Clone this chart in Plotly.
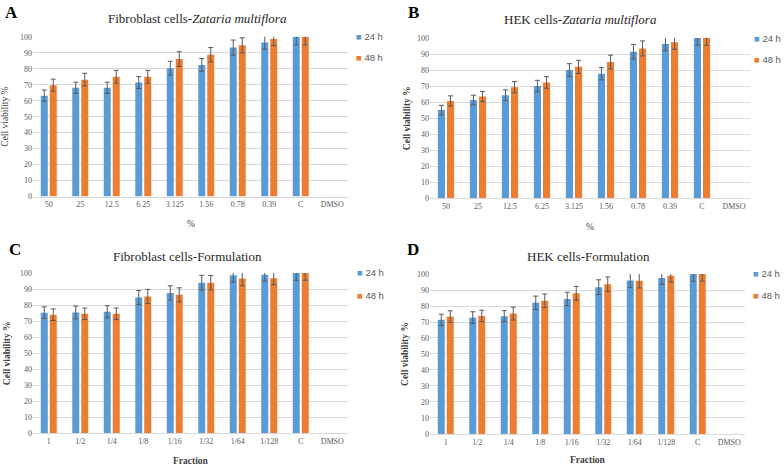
import plotly.graph_objects as go

# ---------------- data ----------------
cats_conc = ["50", "25", "12.5", "6.25", "3.125", "1.56", "0.78", "0.39", "C", "DMSO"]
cats_frac = ["1", "1/2", "1/4", "1/8", "1/16", "1/32", "1/64", "1/128", "C", "DMSO"]

a_24 = [63.2, 68.1, 68.1, 71.4, 80.4, 82.4, 93.3, 96.5, 100, None]
a_48 = [69.7, 73.2, 75.0, 75.0, 86.1, 88.8, 94.7, 98.6, 100, None]
a_24_err = [3.5, 3.5, 3.5, 3.7, 4.3, 4.0, 4.7, 4.2, 5.0, 0]
a_48_err = [3.8, 4.0, 4.0, 4.0, 4.6, 4.5, 4.7, 4.0, 5.0, 0]

b_24 = [55.0, 61.3, 64.3, 70.0, 80.0, 77.7, 91.5, 96.3, 100, None]
b_48 = [60.7, 63.5, 69.3, 72.3, 82.0, 85.0, 93.5, 97.3, 100, None]
b_24_err = [3.0, 3.0, 3.3, 3.6, 4.0, 3.8, 4.5, 4.2, 4.5, 0]
b_48_err = [3.2, 3.2, 3.5, 3.6, 4.1, 4.3, 4.7, 4.3, 4.5, 0]

c_24 = [75.3, 75.4, 75.8, 84.7, 87.6, 94.0, 98.6, 99.0, 100, None]
c_48 = [74.0, 74.6, 74.6, 85.4, 86.4, 94.0, 96.6, 96.8, 100, None]
c_24_err = [3.6, 4.0, 3.8, 4.4, 4.4, 4.6, 4.2, 4.0, 4.5, 0]
c_48_err = [3.6, 3.6, 3.6, 4.4, 4.4, 4.5, 4.5, 4.0, 4.5, 0]

d_24 = [71.4, 72.8, 73.6, 82.0, 84.4, 91.8, 96.0, 97.6, 100, None]
d_48 = [73.4, 73.8, 75.3, 83.3, 88.0, 93.6, 95.8, 99.0, 100, None]
d_24_err = [3.5, 3.6, 3.5, 4.2, 4.2, 4.6, 4.5, 4.0, 4.5, 0]
d_48_err = [3.6, 3.6, 4.0, 4.2, 4.3, 4.6, 4.5, 4.0, 4.5, 0]

series_names = ["24 h", "48 h"]
y_ticks = [0, 10, 20, 30, 40, 50, 60, 70, 80, 90, 100]

panels = [
    dict(letter="A", title="Fibroblast cells-<i>Zataria multiflora</i>", xtitle="%", cats=cats_conc,
         v24=a_24, v48=a_48, e24=a_24_err, e48=a_48_err),
    dict(letter="B", title="HEK cells-<i>Zataria multiflora</i>", xtitle="%", cats=cats_conc,
         v24=b_24, v48=b_48, e24=b_24_err, e48=b_48_err),
    dict(letter="C", title="Fibroblast cells-Formulation", xtitle="<b>Fraction</b>", cats=cats_frac,
         v24=c_24, v48=c_48, e24=c_24_err, e48=c_48_err),
    dict(letter="D", title="HEK cells-Formulation", xtitle="<b>Fraction</b>", cats=cats_frac,
         v24=d_24, v48=d_48, e24=d_24_err, e48=d_48_err),
]

# ---------------- layout geometry (pixels) ----------------
W, H = 784, 471
geo = [
    dict(x0=33, x1=348, ytop=33.5, ybot=196.3, letter_xy=(11, 9), title_xy=(197, 15),
         ytitle_x=5, ytitle_bold=False, xtitle_y=224, leg_x=354, leg_y=(33, 55)),
    dict(x0=430, x1=750, ytop=34.7, ybot=198, letter_xy=(414, 9), title_xy=(580, 16),
         ytitle_x=407, ytitle_bold=True, xtitle_y=227, leg_x=752, leg_y=(35, 57)),
    dict(x0=33, x1=348, ytop=274.3, ybot=437.7, letter_xy=(15, 250), title_xy=(187, 257),
         ytitle_x=7, ytitle_bold=True, xtitle_y=466, leg_x=355, leg_y=(274, 297)),
    dict(x0=430, x1=745, ytop=275.3, ybot=438.3, letter_xy=(413, 250), title_xy=(588, 257),
         ytitle_x=405, ytitle_bold=True, xtitle_y=465, leg_x=751, leg_y=(275, 297)),
]

BLUE = "#5B9BD5"
ORANGE = "#ED7D31"
SERIF = "Liberation Serif"
SANS = "Liberation Sans"

fig = go.Figure()
annotations = []
layout_axes = {}

for i, (p, g) in enumerate(zip(panels, geo)):
    n = "" if i == 0 else str(i + 1)
    xa, ya = "x" + n, "y" + n
    for vals, errs, name, color in [(p["v24"], p["e24"], series_names[0], BLUE),
                                    (p["v48"], p["e48"], series_names[1], ORANGE)]:
        fig.add_trace(go.Bar(
            x=p["cats"], y=vals, name=name, xaxis=xa, yaxis=ya,
            marker=dict(color=color, line=dict(width=0)),
            error_y=dict(type="data", array=errs, visible=True, color="#595959",
                         thickness=1, width=2.5),
            showlegend=False, cliponaxis=True,
        ))
    layout_axes["xaxis" + n] = dict(
        domain=[g["x0"] / W, g["x1"] / W], anchor=ya,
        type="category", categoryorder="array", categoryarray=p["cats"],
        range=[-0.5, len(p["cats"]) - 0.5],
        showline=True, linecolor="#d9d9d9", linewidth=1, ticks="",
        showgrid=False, zeroline=False,
        tickfont=dict(family=SERIF, size=8, color="#595959"),
    )
    layout_axes["yaxis" + n] = dict(
        domain=[1 - g["ybot"] / H, 1 - g["ytop"] / H], anchor=xa,
        range=[0, 100], tickvals=y_ticks, showgrid=True, gridcolor="#d9d9d9", gridwidth=1,
        zeroline=False, showline=False, ticks="",
        tickfont=dict(family=SERIF, size=8, color="#595959"),
    )
    annotations.append(dict(text="<b>%s</b>" % p["letter"], x=g["letter_xy"][0] / W, y=1 - g["letter_xy"][1] / H,
                            xref="paper", yref="paper", showarrow=False, xanchor="center", yanchor="middle",
                            font=dict(family=SERIF, size=17, color="#000000")))
    annotations.append(dict(text=p["title"], x=g["title_xy"][0] / W, y=1 - g["title_xy"][1] / H,
                            xref="paper", yref="paper", showarrow=False, xanchor="center", yanchor="middle",
                            font=dict(family=SERIF, size=13, color="#262626")))
    yt = "Cell viability %"
    if g["ytitle_bold"]:
        yt = "<b>%s</b>" % yt
    annotations.append(dict(text=yt, x=g["ytitle_x"] / W, y=1 - (g["ytop"] + g["ybot"]) / 2 / H,
                            xref="paper", yref="paper", showarrow=False, textangle=-90,
                            xanchor="center", yanchor="middle",
                            font=dict(family=SERIF, size=9.5, color="#404040")))
    annotations.append(dict(text=p["xtitle"], x=(g["x0"] + g["x1"]) / 2 / W, y=1 - g["xtitle_y"] / H,
                            xref="paper", yref="paper", showarrow=False, xanchor="center", yanchor="middle",
                            font=dict(family=SERIF, size=9.5, color="#404040")))
    for name, color, ly in [(series_names[0], BLUE, g["leg_y"][0]), (series_names[1], ORANGE, g["leg_y"][1])]:
        annotations.append(dict(text="<span style='color:%s'>■</span> %s" % (color, name),
                                x=g["leg_x"] / W, y=1 - ly / H, xref="paper", yref="paper",
                                showarrow=False, xanchor="left", yanchor="middle",
                                font=dict(family=SANS, size=9.5, color="#595959")))

fig.update_layout(
    width=W, height=H,
    margin=dict(l=0, r=0, t=0, b=0),
    paper_bgcolor="white", plot_bgcolor="white",
    barmode="group", bargap=0.43, bargroupgap=0.22,
    annotations=annotations,
    showlegend=False,
    hovermode=False,
    **layout_axes,
)

fig.write_html("out.html", config={"displayModeBar": False},
               post_script="document.body.style.margin='0';document.body.style.overflow='hidden';")
